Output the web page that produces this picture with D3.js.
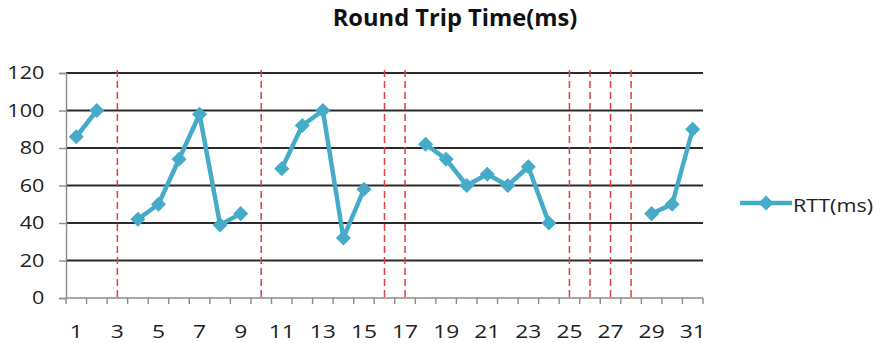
<!DOCTYPE html>
<html>
<head>
<meta charset="utf-8">
<script src="https://cdn.jsdelivr.net/npm/d3@7/dist/d3.min.js"></script>
<style>
  html, body { margin: 0; padding: 0; background: #fff; }
  svg { display: block; }
  text { font-family: "Open Sans", "DejaVu Sans", sans-serif; fill: #222; }
</style>
</head>
<body>
<svg id="chart" width="880" height="343"></svg>
<script>
// Sample index along the x axis
const categories = d3.range(1, 32);
// Round trip time per sample (ms); null where no reply came back
const rtt = [86, 100, null, 42, 50, 74, 98, 39, 45, null,
             69, 92, 100, 32, 58, null, null, 82, 74, 60,
             66, 60, 70, 40, null, null, null, null, 45, 50, 90];
// Samples marked as lost
const lostSamples = [3, 10, 16, 17, 25, 26, 27, 28];
const yTicks = [0, 20, 40, 60, 80, 100, 120];
const xTickLabels = categories.filter(c => c % 2 === 1);
const seriesName = "RTT(ms)";
const title = "Round Trip Time(ms)";

const svg = d3.select("#chart");
const plotLeft = 66, plotRight = 703, plotTop = 73, plotBottom = 298;
const stretch = 1.2;   // wide lettering for the axis and legend text

const x = d3.scaleBand().domain(categories).range([plotLeft, plotRight]).padding(0);
const y = d3.scaleLinear().domain([0, 120]).range([plotBottom, plotTop]);
const cx = c => x(c) + x.bandwidth() / 2;
const color = "#45abc8";

// Title
svg.append("text")
  .attr("transform", "translate(455,26) scale(1.03,1)")
  .attr("text-anchor", "middle")
  .style("font-size", "23px").style("font-weight", "bold")
  .style("fill", "#111")
  .text(title);

// Horizontal gridlines
svg.append("g").selectAll("line")
  .data(yTicks.filter(v => v > 0))
  .join("line")
  .attr("x1", plotLeft).attr("x2", plotRight)
  .attr("y1", d => y(d)).attr("y2", d => y(d))
  .attr("stroke", "#2b2b2b").attr("stroke-width", 1.8);

// Y axis
const yAxis = svg.append("g")
  .attr("transform", `translate(${plotLeft},0)`)
  .call(d3.axisLeft(y).tickValues(yTicks).tickSize(7).tickPadding(11));
yAxis.select(".domain").attr("stroke", "#8c8c8c").attr("stroke-width", 1.4);
yAxis.selectAll(".tick line").attr("stroke", "#8c8c8c").attr("stroke-width", 1.4);
yAxis.selectAll(".tick text")
  .attr("transform", `scale(${stretch},1)`)
  .attr("fill", "#222")
  .style("font-size", "18px")
  .style("font-family", "'Open Sans', sans-serif");

// X axis: ticks fall between categories, labels on odd samples
const xAxisG = svg.append("g").attr("transform", `translate(0,${plotBottom})`);
xAxisG.append("line")
  .attr("x1", plotLeft).attr("x2", plotRight)
  .attr("stroke", "#8c8c8c").attr("stroke-width", 1.4);
xAxisG.selectAll("line.tk")
  .data(categories.concat([categories.length + 1]))
  .join("line").attr("class", "tk")
  .attr("x1", d => d <= categories.length ? x(d) : plotRight)
  .attr("x2", d => d <= categories.length ? x(d) : plotRight)
  .attr("y1", 0).attr("y2", 6)
  .attr("stroke", "#8c8c8c").attr("stroke-width", 1.4);
xAxisG.selectAll("text")
  .data(xTickLabels)
  .join("text")
  .attr("transform", d => `translate(${cx(d)},40) scale(${stretch},1)`)
  .attr("text-anchor", "middle")
  .style("font-size", "19px")
  .text(d => d);

// Lost-sample markers
svg.append("g").selectAll("line")
  .data(lostSamples)
  .join("line")
  .attr("x1", d => cx(d)).attr("x2", d => cx(d))
  .attr("y1", plotTop - 3).attr("y2", plotBottom + 2)
  .attr("stroke", "#dc3f3f").attr("stroke-width", 1.5)
  .attr("stroke-dasharray", "7,4");

// Series line
const pts = categories.map((c, i) => ({ c, v: rtt[i] }));
const line = d3.line()
  .defined(d => d.v !== null)
  .x(d => cx(d.c)).y(d => y(d.v));
svg.append("path")
  .datum(pts)
  .attr("d", line)
  .attr("fill", "none")
  .attr("stroke", color).attr("stroke-width", 4.5)
  .attr("stroke-linejoin", "round");

// Diamond markers
const diamond = d3.symbol().type(d3.symbolDiamond2).size(145);
svg.append("g").selectAll("path")
  .data(pts.filter(d => d.v !== null))
  .join("path")
  .attr("transform", d => `translate(${cx(d.c)},${y(d.v)})`)
  .attr("d", diamond)
  .attr("fill", color);

// Legend
const lg = svg.append("g").attr("transform", "translate(740,203)");
lg.append("line").attr("x1", 0).attr("x2", 52).attr("y1", 0).attr("y2", 0)
  .attr("stroke", color).attr("stroke-width", 4.5);
lg.append("path").attr("transform", "translate(26,0)").attr("d", diamond).attr("fill", color);
lg.append("text")
  .attr("transform", `translate(53,9) scale(${stretch},1)`)
  .style("font-size", "18px").text(seriesName);
</script>
</body>
</html>
